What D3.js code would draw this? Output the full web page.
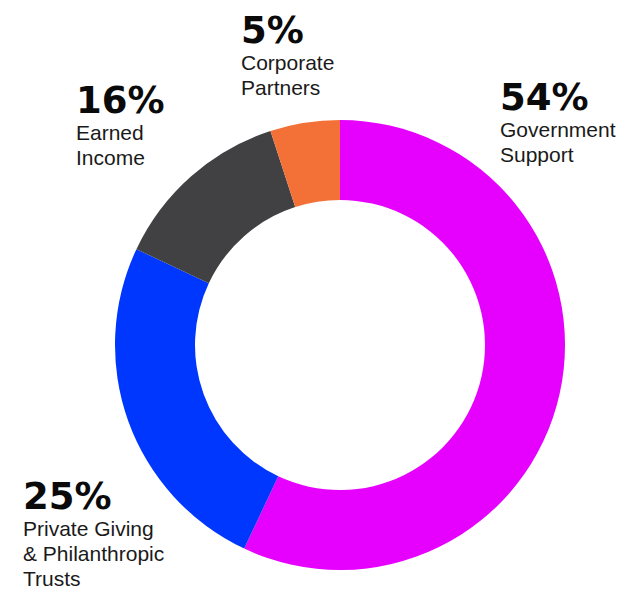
<!DOCTYPE html>
<html><head><meta charset="utf-8">
<script src="https://cdn.jsdelivr.net/npm/d3@7"></script>
<style>html,body{margin:0;padding:0;background:#fff;}svg{display:block;}</style>
</head><body>
<svg id="chart" width="619" height="590"></svg>
<script>
// Data (arc shares as drawn, clockwise from 12 o'clock)
const categories = ["Government Support", "Private Giving & Philanthropic Trusts", "Earned Income", "Corporate Partners"];
const values = [57, 25, 13, 5];
const percentLabels = ["54%", "25%", "16%", "5%"];
const labelLines = [["Government", "Support"], ["Private Giving", "& Philanthropic", "Trusts"], ["Earned", "Income"], ["Corporate", "Partners"]];
const colors = ["#E600FE", "#0037FF", "#414143", "#F37036"];
// label anchor positions (left x, baseline y of percent)
const labelPos = [[500, 110], [23, 509], [76, 113], [241, 43]];

const svg = d3.select("#chart");
const cx = 340, cy = 345, rOuter = 225, rInner = 145;

const pie = d3.pie().sort(null).value(d => d)(values);
const arc = d3.arc().innerRadius(rInner).outerRadius(rOuter);

svg.append("g").attr("transform", `translate(${cx},${cy})`)
  .selectAll("path").data(pie).join("path")
  .attr("d", arc)
  .attr("fill", (d, i) => colors[i]);

const lg = svg.append("g").selectAll("g").data(categories).join("g")
  .attr("transform", (d, i) => `translate(${labelPos[i][0]},${labelPos[i][1]})`);

lg.append("text")
  .attr("x", 0).attr("y", 0)
  .attr("font-family", "'DejaVu Sans', sans-serif")
  .attr("font-weight", "bold")
  .attr("font-size", 37)
  .attr("fill", "#0a0a0a")
  .text((d, i) => percentLabels[i]);

lg.each(function(d, i) {
  const t = d3.select(this).append("text")
    .attr("font-family", "'Liberation Sans', Arial, sans-serif")
    .attr("font-size", 21)
    .attr("fill", "#1a1a1a");
  labelLines[i].forEach((line, j) => {
    t.append("tspan").attr("x", 0).attr("y", 27 + j * 25).text(line);
  });
});
</script>
</body></html>
